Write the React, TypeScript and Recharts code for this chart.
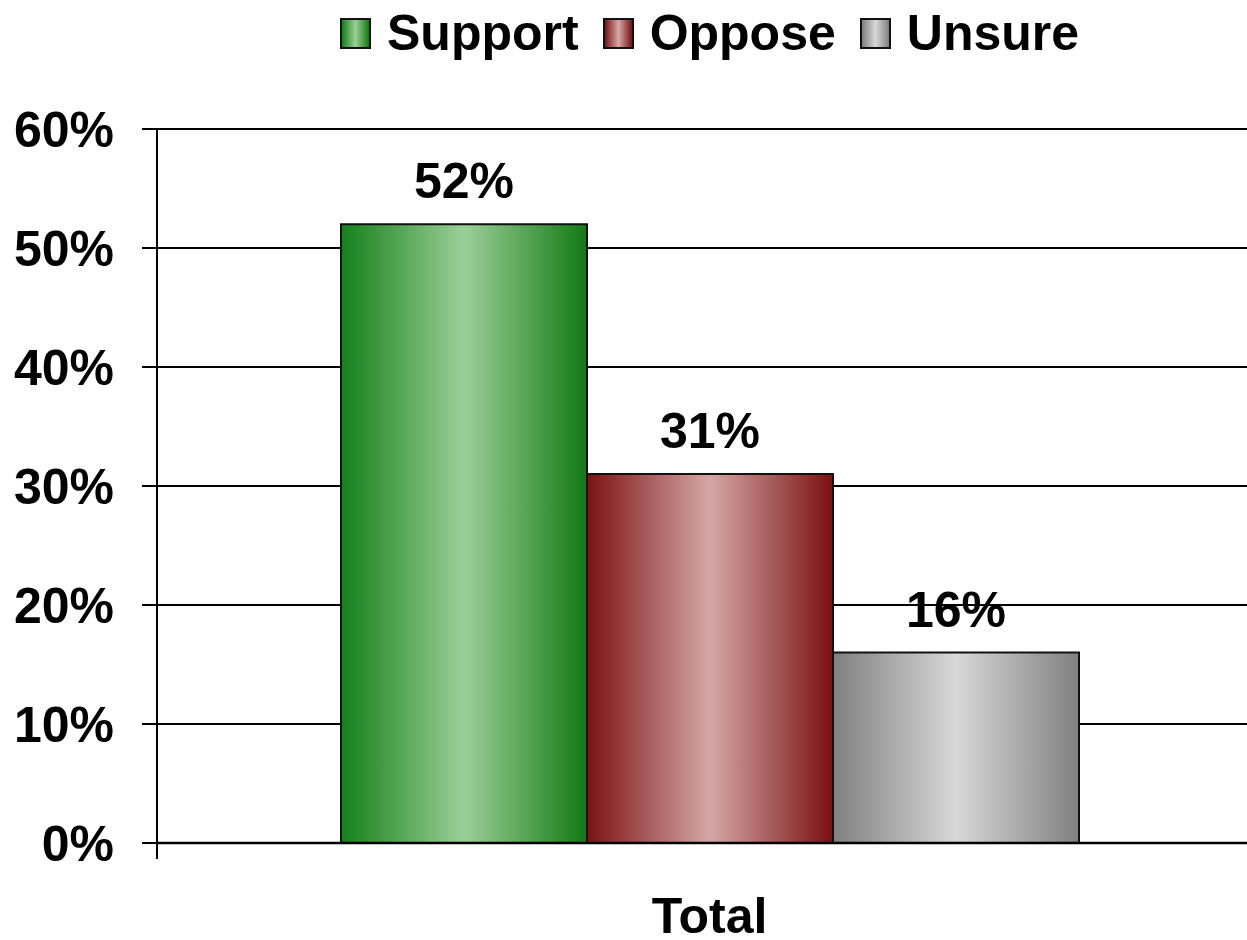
import React from 'react';
import { BarChart, Bar, XAxis, YAxis, CartesianGrid, Legend, LabelList, ReferenceLine } from 'recharts';

const categories = ['Total'];
const supportValues = [52];
const opposeValues = [31];
const unsureValues = [16];
const yTicks = [0, 10, 20, 30, 40, 50, 60];
const seriesNames = ['Support', 'Oppose', 'Unsure'];
// category-axis tick mark at the start of the band, hanging just below 0%
const edgeTickSegment = [
  { x: categories[0], y: 0 },
  { x: categories[0], y: -1.35 },
];

const data = categories.map((name, i) => ({
  name,
  Support: supportValues[i],
  Oppose: opposeValues[i],
  Unsure: unsureValues[i],
}));

const FONT = '"Liberation Sans", Arial, sans-serif';

const gradients: Record<string, { edge: string; mid: string; edge2: string }> = {
  Support: { edge: '#15801a', mid: '#9ccf98', edge2: '#137a13' },
  Oppose: { edge: '#7c1212', mid: '#d5a7a7', edge2: '#7a1010' },
  Unsure: { edge: '#7f7f7f', mid: '#d8d8d8', edge2: '#808080' },
};

const LegendContent = () => (
  <div
    style={{
      display: 'flex',
      alignItems: 'flex-start',
      paddingLeft: 340,
      paddingTop: 8,
      height: 129,
      boxSizing: 'border-box',
      fontFamily: FONT,
      fontWeight: 'bold',
      fontSize: 50,
      color: '#000',
    }}
  >
    {seriesNames.map((n) => {
      const g = gradients[n];
      return (
        <div key={n} style={{ display: 'flex', alignItems: 'center', marginRight: 24 }}>
          <div
            style={{
              width: 31,
              height: 31,
              boxSizing: 'border-box',
              border: '2px solid #111',
              background: `linear-gradient(to right, ${g.edge} 0%, ${g.mid} 50%, ${g.edge2} 100%)`,
              marginRight: 16,
            }}
          />
          <span style={{ lineHeight: '50px' }}>{n}</span>
        </div>
      );
    })}
  </div>
);

export default function App() {
  return (
    <div style={{ position: 'absolute', left: 0, top: 0, width: 1247, height: 940, overflow: 'hidden', background: '#fff' }}>
      <BarChart
        width={1262}
        height={940}
        data={data}
        margin={{ top: 0, right: 0, left: 0, bottom: 0 }}
        barGap={0}
      >
        <defs>
          {seriesNames.map((n) => {
            const g = gradients[n];
            return (
              <linearGradient key={n} id={`grad-${n}`} x1="0" y1="0" x2="1" y2="0">
                <stop offset="0%" stopColor={g.edge} />
                <stop offset="50%" stopColor={g.mid} />
                <stop offset="100%" stopColor={g.edge2} />
              </linearGradient>
            );
          })}
        </defs>
        <Legend
          verticalAlign="top"
          align="left"
          content={<LegendContent />}
          wrapperStyle={{ top: 0, left: 0, width: 1247, height: 129 }}
        />
        <CartesianGrid vertical={false} stroke="#000" strokeWidth={2} />
        <XAxis
          dataKey="name"
          height={97}
          tickLine={false}
          axisLine={{ stroke: '#000', strokeWidth: 2.5 }}
          tickSize={10}
          tickMargin={44}
          tick={{ fill: '#000', fontSize: 50, fontWeight: 'bold', fontFamily: FONT }}
        />
        <YAxis
          width={157}
          domain={[0, 60]}
          ticks={yTicks}
          tickSize={15}
          tickMargin={28}
          tickFormatter={(v: number) => `${v}%`}
          axisLine={{ stroke: '#000', strokeWidth: 2 }}
          tickLine={{ stroke: '#000', strokeWidth: 2 }}
          tick={{ fill: '#000', fontSize: 50, fontWeight: 'bold', fontFamily: FONT }}
        />
        {seriesNames.map((n) => (
          <Bar
            key={n}
            dataKey={n}
            barSize={246}
            fill={`url(#grad-${n})`}
            stroke="#111"
            strokeWidth={2}
            isAnimationActive={false}
          >
            <LabelList
              dataKey={n}
              position="top"
              offset={26}
              formatter={(v: number) => `${v}%`}
              style={{ fill: '#000', fontSize: 50, fontWeight: 'bold', fontFamily: FONT }}
            />
          </Bar>
        ))}
        <ReferenceLine
          segment={edgeTickSegment}
          position="start"
          stroke="#000"
          strokeWidth={2}
          ifOverflow="visible"
        />
      </BarChart>
    </div>
  );
}
